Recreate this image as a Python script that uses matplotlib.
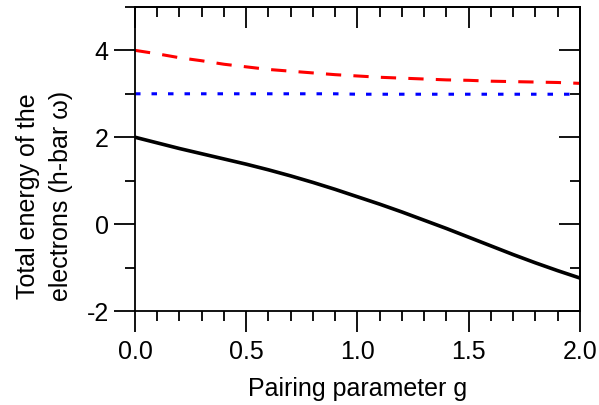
import numpy as np
import matplotlib.pyplot as plt
from matplotlib.ticker import MultipleLocator

plt.rcParams['font.family'] = ['Liberation Sans', 'DejaVu Sans']

g = [0.0, 0.1, 0.2, 0.3, 0.4, 0.5, 0.6, 0.7, 0.8, 0.9, 1.0,
     1.1, 1.2, 1.3, 1.4, 1.5, 1.6, 1.7, 1.8, 1.9, 2.0]
ground = [2.00, 1.87, 1.74, 1.62, 1.50, 1.38, 1.25, 1.11, 0.96, 0.80, 0.63,
          0.46, 0.28, 0.09, -0.10, -0.30, -0.50, -0.70, -0.89, -1.07, -1.24]
excited_pair = [4.00, 3.92, 3.83, 3.76, 3.68, 3.62, 3.56, 3.52, 3.48, 3.44, 3.41,
                3.38, 3.36, 3.34, 3.32, 3.31, 3.29, 3.28, 3.27, 3.26, 3.24]
broken_pair = [3.0, 3.0, 3.0, 3.0, 3.0, 3.0, 3.0, 3.0, 3.0, 3.0, 2.99,
               2.99, 2.99, 2.99, 2.99, 2.99, 2.99, 2.99, 2.99, 2.99, 2.99]

fig = plt.figure(figsize=(5.99, 4.05), dpi=100)
ax = fig.add_axes([0.2254, 0.232, 0.7426, 0.751])

ax.plot(g, ground, color='black', linewidth=2.6)
ax.plot(g, excited_pair, color='red', linewidth=2.2, dashes=(5, 4))
ax.plot(g, broken_pair, color='blue', linewidth=2.2, dashes=(1.8, 3.6))

ax.set_xlim(0, 2)
ax.set_ylim(-2, 5)
ax.xaxis.set_major_locator(MultipleLocator(0.5))
ax.xaxis.set_minor_locator(MultipleLocator(0.1))
ax.yaxis.set_major_locator(MultipleLocator(2))
ax.yaxis.set_minor_locator(MultipleLocator(1))
ax.xaxis.set_major_formatter(lambda v, p: f'{v:.1f}')
ax.yaxis.set_major_formatter(lambda v, p: f'{v:.0f}')

ax.tick_params(which='major', direction='out', length=15, width=1.3, labelsize=18)
ax.tick_params(which='minor', direction='out', length=7, width=1.3)
ax.tick_params(axis='x', pad=6)
ax.tick_params(axis='y', pad=4)
for s in ax.spines.values():
    s.set_linewidth(1.3)

top = ax.secondary_xaxis('top')
top.xaxis.set_major_locator(MultipleLocator(0.5))
top.xaxis.set_minor_locator(MultipleLocator(0.1))
top.tick_params(which='major', direction='in', length=15, width=1.3, labeltop=False)
top.tick_params(which='minor', direction='in', length=7, width=1.3)
top.spines['top'].set_linewidth(1.3)

right = ax.secondary_yaxis('right')
right.yaxis.set_major_locator(MultipleLocator(2))
right.yaxis.set_minor_locator(MultipleLocator(1))
right.tick_params(which='major', direction='in', length=15, width=1.3, labelright=False)
right.tick_params(which='minor', direction='in', length=7, width=1.3)
right.spines['right'].set_linewidth(1.3)

ax.set_xlabel('Pairing parameter g', fontsize=18, labelpad=9)
ax.set_ylabel('Total energy of the\nelectrons (h-bar \u03c9)', fontsize=18, linespacing=1.45)
ax.yaxis.set_label_coords(-0.14, 0.378)

fig.savefig('out.png', dpi=100)
